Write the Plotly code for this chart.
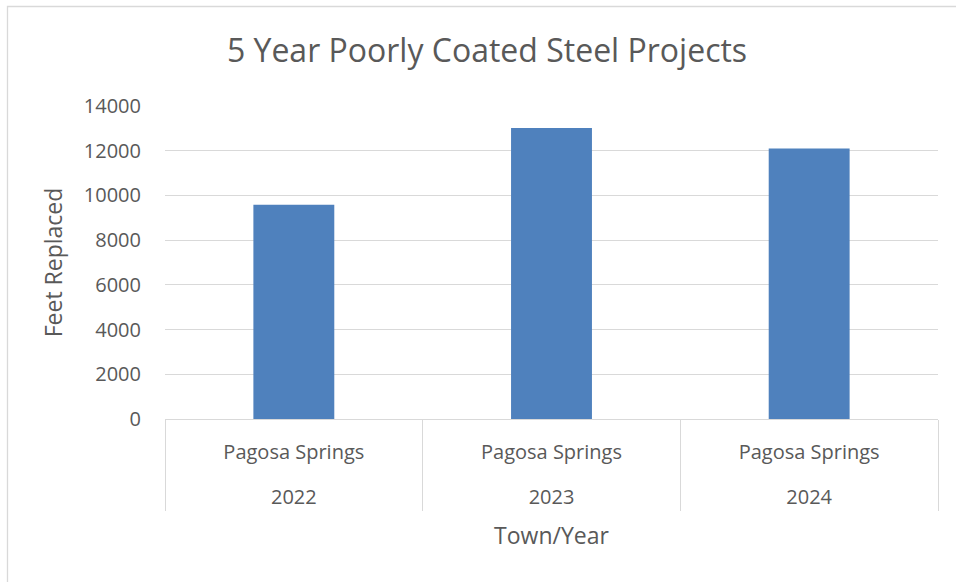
import plotly.graph_objects as go

towns = ["Pagosa Springs", "Pagosa Springs", "Pagosa Springs"]
years = ["2022", "2023", "2024"]
feet_replaced = [9580, 13020, 12100]

title_text = "5 Year Poorly Coated Steel Projects"
x_title = "Town/Year"
y_title = "Feet Replaced"

TEXT = "#595959"
GRID = "#d9d9d9"
FONT = "Open Sans"

W, H = 956, 582
L, R, T, B = 165, 18, 106, 163
pw = W - L - R
ph = H - T - B

# inner-level labels get an extra (blank) line so the year row sits lower, as in the reference
inner_labels = [t + "<br><span style='font-size:38px'>\u00a0</span>" for t in towns]

fig = go.Figure()
fig.add_trace(go.Bar(
    x=[years, inner_labels],
    y=feet_replaced,
    marker=dict(color="#4f81bd", line=dict(width=0)),
    width=0.314,
    hovertext=[f"{t} {y}" for t, y in zip(towns, years)],
    hoverinfo="text+y",
))

fig.update_layout(
    width=W, height=H,
    margin=dict(l=L, r=R, t=T, b=B, autoexpand=False),
    paper_bgcolor="white",
    plot_bgcolor="white",
    showlegend=False,
    font=dict(family=FONT, color=TEXT, size=20),
    title=dict(
        text=title_text,
        x=487 / W, xref="container", xanchor="center",
        y=1 - 51 / H, yref="container", yanchor="middle",
        font=dict(family=FONT, size=32, color=TEXT),
    ),
    xaxis=dict(
        type="multicategory",
        showline=True, linecolor=GRID, linewidth=1.3,
        showgrid=False,
        ticks="",
        showdividers=True, dividercolor=GRID, dividerwidth=1.3,
        tickfont=dict(family=FONT, size=20, color=TEXT),
        ticklabelstandoff=15,
        title=dict(text=x_title, font=dict(family=FONT, size=23, color=TEXT), standoff=18),
        automargin=False,
    ),
    yaxis=dict(
        range=[0, 14000], dtick=2000, tickformat="d",
        showgrid=True, gridcolor=GRID, gridwidth=1.3,
        zeroline=False,
        showline=False,
        ticks="",
        tickfont=dict(family=FONT, size=20, color=TEXT),
        ticklabelstandoff=23,
        title=dict(text=y_title, font=dict(family=FONT, size=23, color=TEXT), standoff=14),
        automargin=False,
    ),
)

# outer chart-area border (extends past right and bottom of the view)
fig.add_shape(
    type="rect", xref="paper", yref="paper",
    x0=(7.5 - L) / pw, x1=(975 - L) / pw,
    y0=-(595 - T - ph) / ph, y1=1 + (T - 6.5) / ph,
    line=dict(color=GRID, width=1.3), fillcolor="rgba(0,0,0,0)", layer="below",
)

fig.write_html("out.html", config={"displayModeBar": False},
               post_script="document.body.style.margin='0';")
